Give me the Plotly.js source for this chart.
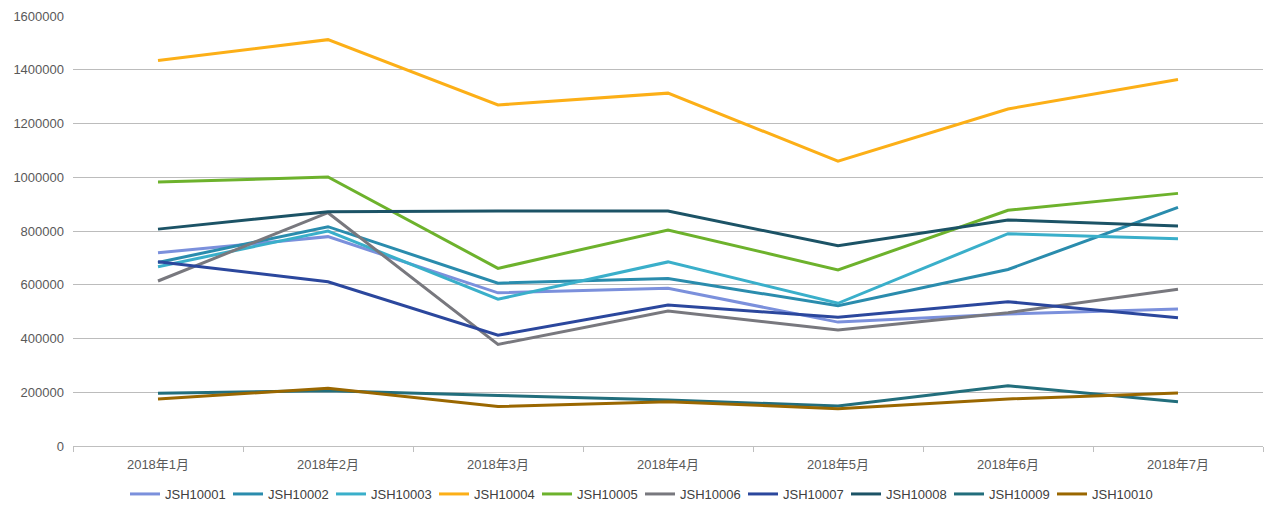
<!DOCTYPE html>
<html>
<head>
<meta charset="utf-8">
<script src="https://cdn.plot.ly/plotly-3.0.1.min.js"></script>
<style>html,body{margin:0;padding:0;background:#fff;}#chart{width:1280px;height:519px;}</style>
</head>
<body>
<div id="chart"></div>
<script>
const months = ["2018年1月","2018年2月","2018年3月","2018年4月","2018年5月","2018年6月","2018年7月"];
const seriesNames = ["JSH10001","JSH10002","JSH10003","JSH10004","JSH10005","JSH10006","JSH10007","JSH10008","JSH10009","JSH10010"];
const JSH10001 = [719000, 779000, 570000, 587000, 461000, 491000, 510000];
const JSH10002 = [683000, 816000, 606000, 623000, 522000, 657000, 888000];
const JSH10003 = [667000, 800000, 546000, 685000, 531000, 790000, 771000];
const JSH10004 = [1434000, 1512000, 1269000, 1313000, 1060000, 1254000, 1364000];
const JSH10005 = [982000, 1001000, 661000, 804000, 655000, 877000, 940000];
const JSH10006 = [614000, 868000, 378000, 502000, 432000, 496000, 583000];
const JSH10007 = [686000, 611000, 412000, 525000, 479000, 537000, 477000];
const JSH10008 = [807000, 872000, 874000, 874000, 745000, 841000, 819000];
const JSH10009 = [196000, 206000, 188000, 171000, 149000, 224000, 165000];
const JSH10010 = [175000, 215000, 147000, 165000, 139000, 175000, 197000];
const colors = ["#7b90dc","#2a8cad","#3aafca","#fcaf17","#6db22c","#78787e","#2b479d","#1c5366","#226e7c","#9a6700"];
const values = [JSH10001,JSH10002,JSH10003,JSH10004,JSH10005,JSH10006,JSH10007,JSH10008,JSH10009,JSH10010];

const font = "Liberation Sans, Arial, 'Noto Sans CJK SC', sans-serif";
const traces = seriesNames.map((n,i)=>({
  type:"scatter", mode:"lines", name:n, x:months, y:values[i],
  line:{color:colors[i], width:3}
}));

const layout = {
  width:1280, height:519,
  margin:{l:73, r:17, t:16, b:73},
  paper_bgcolor:"#fff", plot_bgcolor:"#fff",
  font:{family:font, size:13, color:"#595959"},
  showlegend:true,
  legend:{orientation:"h", x:0.5, xanchor:"center", xref:"container", y:25/519, yanchor:"middle", yref:"container",
    font:{family:font, size:13, color:"#404040"}, entrywidth:58, entrywidthmode:"pixels", itemwidth:30, tracegroupgap:0},
  xaxis:{type:"category", range:[-0.5,6.5], tickson:"boundaries", ticks:"outside", ticklen:5, tickcolor:"#bfbfbf",
    showline:true, linecolor:"#bfbfbf", linewidth:1, showgrid:false, zeroline:false, ticklabelstandoff:6,
    tickfont:{family:font, size:13, color:"#595959"}},
  yaxis:{range:[0,1600000], dtick:200000, tickformat:"d", gridcolor:"#bcbcbc", gridwidth:1, zeroline:false,
    showline:false, ticks:"", ticklen:0, ticklabelstandoff:8, tickfont:{family:font, size:13, color:"#595959"}}
};
Plotly.newPlot("chart", traces, layout, {displayModeBar:false, staticPlot:true});
</script>
</body>
</html>
